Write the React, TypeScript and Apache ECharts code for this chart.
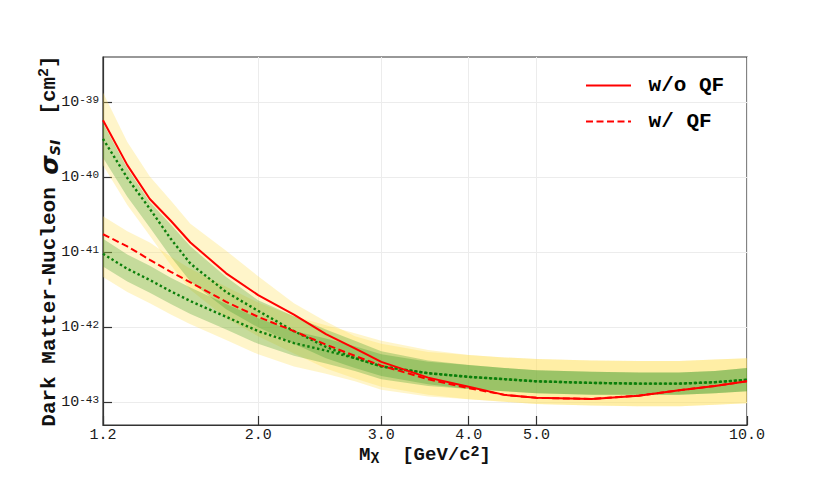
import React, { useEffect, useRef } from 'react';
import * as echarts from 'echarts';

// Dark-matter mass (GeV/c^2)
const masses = [1.2, 1.3, 1.4, 1.5, 1.6, 1.8, 2.0, 2.25, 2.5, 2.75, 3.0, 3.5, 4.0, 4.5, 5.0, 6.0, 7.0, 8.0, 9.0, 10.0];

// Observed limits (cm^2)
const limitWithoutQF = [5.75e-40, 1.45e-40, 5.13e-41, 2.63e-41, 1.35e-41, 5.25e-42, 2.69e-42, 1.48e-42, 8.13e-43, 5.25e-43, 3.47e-43, 2.14e-43, 1.62e-43, 1.26e-43, 1.15e-43, 1.11e-43, 1.23e-43, 1.45e-43, 1.66e-43, 1.91e-43];
const limitWithQF = [1.74e-41, 1.2e-41, 7.94e-42, 5.5e-42, 3.98e-42, 2.19e-42, 1.38e-42, 8.91e-43, 5.89e-43, 4.17e-43, 3.09e-43, 2.04e-43, 1.55e-43, 1.26e-43, 1.15e-43, 1.11e-43, 1.23e-43, 1.45e-43, 1.66e-43, 1.91e-43];

// Expected (median) sensitivities
const medianWithoutQF = [3.24e-40, 9.77e-41, 3.8e-41, 1.51e-41, 7.08e-42, 2.95e-42, 1.66e-42, 8.91e-43, 5.5e-43, 3.89e-43, 3.02e-43, 2.45e-43, 2.19e-43, 2.04e-43, 1.91e-43, 1.82e-43, 1.78e-43, 1.78e-43, 1.86e-43, 2.0e-43];
const medianWithQF = [9.55e-42, 6.03e-42, 4.27e-42, 3.02e-42, 2.24e-42, 1.38e-42, 8.91e-43, 6.17e-43, 4.9e-43, 3.89e-43, 3.02e-43, 2.45e-43, 2.19e-43, 2.04e-43, 1.91e-43, 1.82e-43, 1.78e-43, 1.78e-43, 1.86e-43, 2.0e-43];

// Bands without QF
const oneSigmaLowWithoutQF = [1.82e-40, 5.5e-41, 2.14e-41, 8.71e-42, 4.07e-42, 1.74e-42, 1.0e-42, 6.03e-43, 3.89e-43, 2.88e-43, 2.24e-43, 1.74e-43, 1.51e-43, 1.41e-43, 1.32e-43, 1.26e-43, 1.26e-43, 1.26e-43, 1.32e-43, 1.41e-43];
const oneSigmaHighWithoutQF = [5.25e-40, 1.32e-40, 4.68e-41, 2.34e-41, 1.2e-41, 4.68e-42, 2.29e-42, 1.41e-42, 9.33e-43, 6.61e-43, 4.79e-43, 3.63e-43, 3.16e-43, 2.88e-43, 2.69e-43, 2.57e-43, 2.51e-43, 2.51e-43, 2.63e-43, 2.88e-43];
const twoSigmaLowWithoutQF = [1.45e-40, 4.27e-41, 1.66e-41, 6.76e-42, 3.16e-42, 1.32e-42, 7.59e-43, 4.47e-43, 2.82e-43, 2.09e-43, 1.62e-43, 1.26e-43, 1.1e-43, 1.02e-43, 9.55e-44, 9.12e-44, 8.91e-44, 8.91e-44, 9.33e-44, 9.77e-44];
const twoSigmaHighWithoutQF = [1.35e-39, 2.95e-40, 1.02e-40, 4.9e-41, 2.4e-41, 1.05e-41, 4.79e-42, 2.09e-42, 1.2e-42, 7.59e-43, 6.03e-43, 4.68e-43, 4.27e-43, 3.98e-43, 3.8e-43, 3.63e-43, 3.55e-43, 3.55e-43, 3.72e-43, 3.89e-43];

// Bands with QF
const oneSigmaLowWithQF = [6.46e-42, 4.07e-42, 2.88e-42, 2.04e-42, 1.51e-42, 9.33e-43, 6.03e-43, 4.17e-43, 3.31e-43, 2.63e-43, 2.04e-43, 1.66e-43, 1.51e-43, 1.41e-43, 1.32e-43, 1.26e-43, 1.26e-43, 1.26e-43, 1.32e-43, 1.41e-43];
const oneSigmaHighWithQF = [1.51e-41, 9.33e-42, 6.61e-42, 4.57e-42, 3.39e-42, 2.04e-42, 1.32e-42, 8.91e-43, 7.08e-43, 5.62e-43, 4.37e-43, 3.47e-43, 3.16e-43, 2.88e-43, 2.69e-43, 2.57e-43, 2.51e-43, 2.51e-43, 2.63e-43, 2.88e-43];
const twoSigmaLowWithQF = [4.68e-42, 2.95e-42, 2.09e-42, 1.48e-42, 1.1e-42, 6.76e-43, 4.37e-43, 3.02e-43, 2.4e-43, 1.91e-43, 1.48e-43, 1.2e-43, 1.1e-43, 1.02e-43, 9.55e-44, 9.12e-44, 8.91e-44, 8.91e-44, 9.33e-44, 9.77e-44];
const twoSigmaHighWithQF = [3.02e-41, 1.91e-41, 1.35e-41, 8.71e-42, 6.03e-42, 3.47e-42, 2.14e-42, 1.41e-42, 1.07e-42, 8.32e-43, 6.61e-43, 5.01e-43, 4.27e-43, 3.98e-43, 3.8e-43, 3.63e-43, 3.55e-43, 3.55e-43, 3.72e-43, 3.89e-43];

const xTickValues = [1.2, 2.0, 3.0, 4.0, 5.0, 10.0];
const legendNames = ['w/o QF', 'w/ QF'];

const MONO = '"Liberation Mono", "DejaVu Sans Mono", monospace';
const YELLOW = 'rgba(255,222,80,0.3)';
const GREEN = 'rgba(45,150,35,0.28)';

const pairs = (ys: number[]) => masses.map((m, i) => [m, ys[i]]);

function band(id: string, lo: number[], hi: number[], color: string) {
  return {
    type: 'custom',
    id,
    coordinateSystem: 'cartesian2d',
    silent: true,
    clip: true,
    z: 1,
    data: [[masses[0], lo[0]]],
    encode: { x: 0, y: 1 },
    renderItem: (_params: any, api: any) => {
      const pts: number[][] = [];
      for (let i = 0; i < masses.length; i++) pts.push(api.coord([masses[i], hi[i]]));
      for (let i = masses.length - 1; i >= 0; i--) pts.push(api.coord([masses[i], lo[i]]));
      return { type: 'polygon', shape: { points: pts }, style: { fill: color, stroke: 'none' } };
    },
  };
}

export default function App() {
  const ref = useRef<HTMLDivElement>(null);

  useEffect(() => {
    document.body.style.margin = '0';
    document.body.style.overflow = 'hidden';
    if (!ref.current) return;
    const chart = echarts.init(ref.current, undefined, { renderer: 'svg' });

    const option: any = {
      animation: false,
      backgroundColor: '#ffffff',
      grid: {
        left: 103, top: 57, width: 644, height: 368,
        show: true, borderColor: '#333', borderWidth: 1.2, backgroundColor: 'transparent',
        containLabel: false, outerBoundsMode: 'none',
      },
      legend: {
        data: legendNames,
        orient: 'vertical',
        left: 585,
        top: 75,
        padding: 0,
        itemWidth: 45,
        itemHeight: 14,
        itemGap: 15,
        itemStyle: { opacity: 0 },
        formatter: (name: string) => ' ' + name,
        textStyle: { fontFamily: MONO, fontSize: 21, lineHeight: 21, fontWeight: 'bold', color: '#000' },
      },
      xAxis: {
        type: 'log',
        logBase: 10,
        min: 1.2,
        max: 10,
        name: '{b|M}{sub|χ}{b|  [GeV/c}{sup|2}{b|]}',
        nameLocation: 'middle',
        nameGap: 20,
        nameMoveOverlap: false,
        nameTextStyle: {
          rich: {
            b: { fontFamily: MONO, fontSize: 19, lineHeight: 19, fontWeight: 'bold', color: '#111' },
            sub: { fontFamily: MONO, fontSize: 15, lineHeight: 15, fontWeight: 'bold', color: '#111', verticalAlign: 'bottom', padding: [12, 0, 0, 0] },
            sup: { fontFamily: MONO, fontSize: 15, lineHeight: 15, fontWeight: 'bold', color: '#111', verticalAlign: 'top', padding: [0, 0, 12, 0] },
          },
        },
        axisLine: { show: true, lineStyle: { color: '#333', width: 1.2 } },
        axisTick: { show: true, inside: true, length: 9, customValues: xTickValues, lineStyle: { color: '#333', width: 1.2 } },
        axisLabel: {
          customValues: xTickValues,
          margin: 3,
          fontFamily: MONO,
          fontSize: 15,
          lineHeight: 15,
          color: '#1a1a1a',
          showMinLabel: true,
          showMaxLabel: true,
          formatter: (v: number) => Number(v).toFixed(1),
        },
        splitLine: { show: true, lineStyle: { color: '#ececec', width: 1 } },
        minorTick: { show: false },
      },
      yAxis: {
        type: 'log',
        logBase: 10,
        min: 5e-44,
        max: 4e-39,
        name: '{b|Dark Matter-Nucleon }{sig|σ}{sub|SI}{b|  [cm}{sup|2}{b|]}',
        nameLocation: 'middle',
        nameRotate: 90,
        nameGap: 41,
        nameMoveOverlap: false,
        nameTextStyle: {
          rich: {
            b: { fontFamily: MONO, fontSize: 21, lineHeight: 21, fontWeight: 'bold', color: '#111' },
            sig: { fontFamily: '"DejaVu Sans"', fontSize: 25, lineHeight: 25, fontWeight: 'bold', fontStyle: 'italic', color: '#111' },
            sub: { fontFamily: '"DejaVu Sans"', fontSize: 14, lineHeight: 14, fontWeight: 'bold', fontStyle: 'italic', color: '#111', verticalAlign: 'bottom', padding: [14, 0, 0, 0] },
            sup: { fontFamily: MONO, fontSize: 15, lineHeight: 15, fontWeight: 'bold', color: '#111', verticalAlign: 'top', padding: [0, 0, 13, 0] },
          },
        },
        axisLine: { show: true, lineStyle: { color: '#333', width: 1.2 } },
        axisTick: { show: true, inside: true, length: 9, lineStyle: { color: '#333', width: 1.2 } },
        axisLabel: {
          margin: 4,
          showMinLabel: false,
          showMaxLabel: false,
          formatter: (v: number) => {
            const lg = Math.log10(v);
            const e = Math.round(lg);
            if (Math.abs(lg - e) > 0.02) return '';
            return '{b|10}{sup|' + e + '}';
          },
          rich: {
            b: { fontFamily: MONO, fontSize: 15, lineHeight: 15, color: '#1a1a1a', verticalAlign: 'bottom' },
            sup: { fontFamily: MONO, fontSize: 11, lineHeight: 11, color: '#1a1a1a', verticalAlign: 'top', padding: [0, 0, 5, 0] },
          },
        },
        splitLine: { show: true, lineStyle: { color: '#ececec', width: 1 } },
        minorTick: { show: false },
      },
      series: [
        band('band2-woqf', twoSigmaLowWithoutQF, twoSigmaHighWithoutQF, YELLOW),
        band('band2-wqf', twoSigmaLowWithQF, twoSigmaHighWithQF, YELLOW),
        band('band1-woqf', oneSigmaLowWithoutQF, oneSigmaHighWithoutQF, GREEN),
        band('band1-wqf', oneSigmaLowWithQF, oneSigmaHighWithQF, GREEN),
        {
          type: 'line', id: 'median-woqf', data: pairs(medianWithoutQF), symbol: 'none', z: 3,
          lineStyle: { color: '#0b7f0b', width: 2.4, type: [2.4, 2.6], cap: 'butt' },
        },
        {
          type: 'line', id: 'median-wqf', data: pairs(medianWithQF), symbol: 'none', z: 3,
          lineStyle: { color: '#0b7f0b', width: 2.4, type: [2.4, 2.6], cap: 'butt' },
        },
        {
          type: 'line', name: 'w/ QF', data: pairs(limitWithQF), symbol: 'none', z: 4,
          color: '#ff0000',
          lineStyle: { color: '#ff0000', width: 2, type: [7, 3.5] },
        },
        {
          type: 'line', name: 'w/o QF', data: pairs(limitWithoutQF), symbol: 'none', z: 4,
          color: '#ff0000',
          lineStyle: { color: '#ff0000', width: 2, type: 'solid' },
        },
      ],
    };

    chart.setOption(option);
    return () => chart.dispose();
  }, []);

  return <div ref={ref} style={{ width: 830, height: 478 }} />;
}
